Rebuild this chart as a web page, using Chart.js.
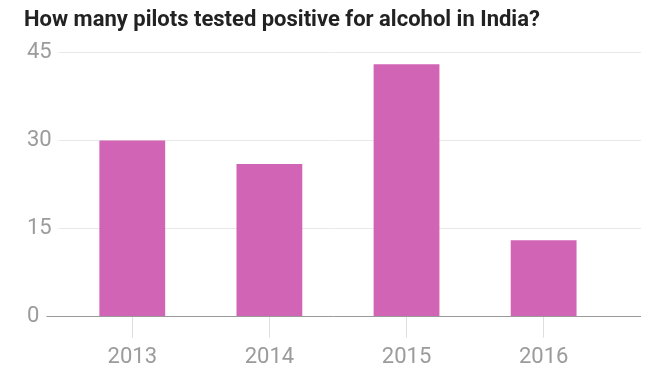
<!DOCTYPE html>
<html>
<head>
<meta charset="utf-8">
<script src="https://cdn.jsdelivr.net/npm/chart.js@4.4.1/dist/chart.umd.min.js"></script>
<style>
  html, body { margin: 0; padding: 0; background: #fff; }
  #wrap { width: 665px; height: 372px; }
</style>
</head>
<body>
<div id="wrap"><canvas id="c" width="665" height="372"></canvas></div>
<script>
const title = "How many pilots tested positive for alcohol in India?";
const years = [2013, 2014, 2015, 2016];
const pilotsPositive = [30, 26, 43, 13];
const yTicks = [0, 15, 30, 45];

const FONT = "'Roboto', 'Liberation Sans', sans-serif";
const barColor = '#d264b6';

new Chart(document.getElementById('c'), {
  type: 'bar',
  data: {
    datasets: [{
      data: years.map((y, i) => ({ x: y, y: pilotsPositive[i] })),
      backgroundColor: barColor,
      borderWidth: 0,
      barPercentage: 0.48,
      categoryPercentage: 1
    }]
  },
  options: {
    responsive: false,
    animation: false,
    devicePixelRatio: 1,
    layout: { padding: { left: 24, right: 24, top: 0, bottom: -6 } },
    plugins: {
      legend: { display: false },
      tooltip: { enabled: false },
      title: {
        display: true,
        text: title,
        align: 'start',
        color: '#222',
        font: { family: FONT, size: 22, weight: 'bold' },
        padding: { top: 7, bottom: 19 }
      }
    },
    scales: {
      x: {
        type: 'linear',
        offset: false,
        min: 2012.225,
        max: 2016.71,
        border: { display: false },
        grid: {
          offset: false,
          drawOnChartArea: false,
          drawTicks: true,
          tickLength: 21,
          tickColor: '#dedede',
          tickWidth: 1
        },
        ticks: {
          stepSize: 1,
          includeBounds: false,
          autoSkip: false,
          maxRotation: 0,
          padding: 7,
          color: '#9b9b9b',
          font: { family: FONT, size: 22 },
          callback: (v) => years.includes(v) ? String(v) : ''
        }
      },
      y: {
        min: yTicks[0],
        max: yTicks[yTicks.length - 1],
        border: { display: false },
        afterBuildTicks: (s) => { s.ticks = yTicks.map(v => ({ value: v })); },
        grid: {
          drawTicks: false,
          color: (ctx) => ctx.tick && ctx.tick.value === 0 ? '#9a9a9a' : '#e8e8e8',
          lineWidth: 1
        },
        ticks: {
          mirror: true,
          padding: 1,
          color: '#9b9b9b',
          font: { family: FONT, size: 22 },
          showLabelBackdrop: true,
          backdropColor: '#ffffff',
          backdropPadding: { left: 2, right: 7, top: 1, bottom: 1 }
        }
      }
    }
  }
});
</script>
</body>
</html>
